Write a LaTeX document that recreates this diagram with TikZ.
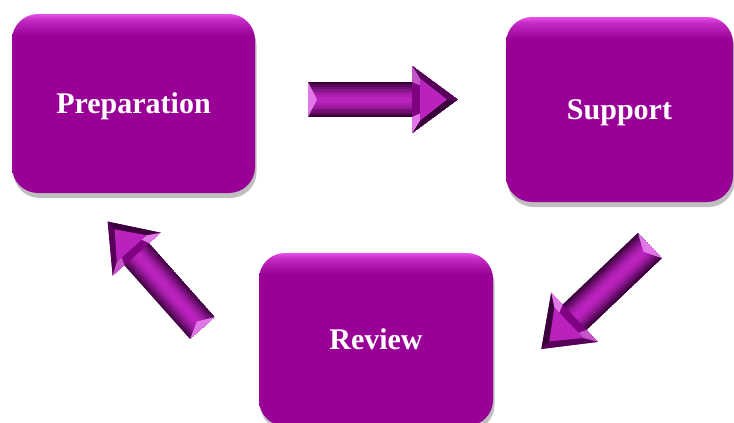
\documentclass[tikz,border=0pt]{standalone}
\usepackage{fontspec}
\setmainfont{Liberation Serif}
\usepackage{tikz}
\usetikzlibrary{shadows}

\definecolor{boxbase}{RGB}{153,0,150}
\definecolor{boxtop}{RGB}{232,80,236}
\definecolor{arrowdark}{RGB}{58,0,60}
\definecolor{arrowbright}{RGB}{186,34,190}
\definecolor{arrowmid}{RGB}{128,0,130}
\definecolor{arrowpink}{RGB}{226,120,232}

\pgfdeclareverticalshading{boxglow}{100bp}{color(0bp)=(boxbase); color(69bp)=(boxbase); color(73.5bp)=(boxtop!55!boxbase); color(75bp)=(boxtop); color(100bp)=(boxtop)}

\tikzset{
  stage/.style={rounded corners=26pt, shade, shading=boxglow, text=white,
    font=\fontsize{30}{34}\selectfont\bfseries, text depth=0pt,
    drop shadow={shadow xshift=1.5pt, shadow yshift=-5pt, opacity=.25, fill=black}},
  pics/blockarrow/.style={code={
    \begin{scope}
      \clip (0,-17.5) -- (104,-17.5) -- (104,-34) -- (150,0) -- (104,34) -- (104,17.5) -- (0,17.5) -- cycle;
      % shaft, dark rim and bright core
      \fill[arrowdark] (0,-17.5) rectangle (106,17.5);
      \foreach \w/\c in {31/20,26/40,21/60,16/78,11/90,6/100}
        \draw[line width=\w pt, arrowbright!\c!arrowdark] (0,0) -- (106,0);
      % head facets
      \fill[arrowmid] (104,-34) -- (150,0) -- (104,34) -- cycle;
      \fill[arrowdark] (104,-34) -- (150,0) -- (139,0) -- (112,-21) -- cycle;
      \fill[arrowdark!60!arrowmid] (104,34) -- (150,0) -- (139,0) -- (112,21) -- cycle;
      \fill[arrowpink] (104,-34) -- (112,-21) -- (112,-14) -- (104,-17.5) -- cycle;
      \fill[arrowpink!70!arrowmid] (104,34) -- (112,21) -- (112,14) -- (104,17.5) -- cycle;
      \fill[arrowbright] (112,-21) -- (139,0) -- (112,21) -- cycle;
      % tail bevel
      \fill[arrowpink] (0,-17.5) -- (9,0) -- (0,17.5) -- cycle;
    \end{scope}
  }}
}

\begin{document}
\begin{tikzpicture}[x=1pt,y=1pt,yscale=-1]
\useasboundingbox (0,0) rectangle (734,423);

% stages
\node[stage, minimum width=243pt, minimum height=179pt] (prep) at (133.5,103.5) {Preparation};
\node[stage, minimum width=227pt, minimum height=185pt] (supp) at (619.5,109.5) {Support};
\node[stage, minimum width=234pt, minimum height=173pt] (rev) at (376,339.5) {Review};

% block arrows between the stages
\coordinate (a1) at (308,99.5);
\coordinate (a2) at (650,245.5);
\coordinate (a3) at (202.5,328);
\pic at (a1) {blockarrow};
\pic[rotate=-136.4] at (a2) {blockarrow};
\pic[rotate=131.7, scale=0.95] at (a3) {blockarrow};

\end{tikzpicture}
\end{document}
